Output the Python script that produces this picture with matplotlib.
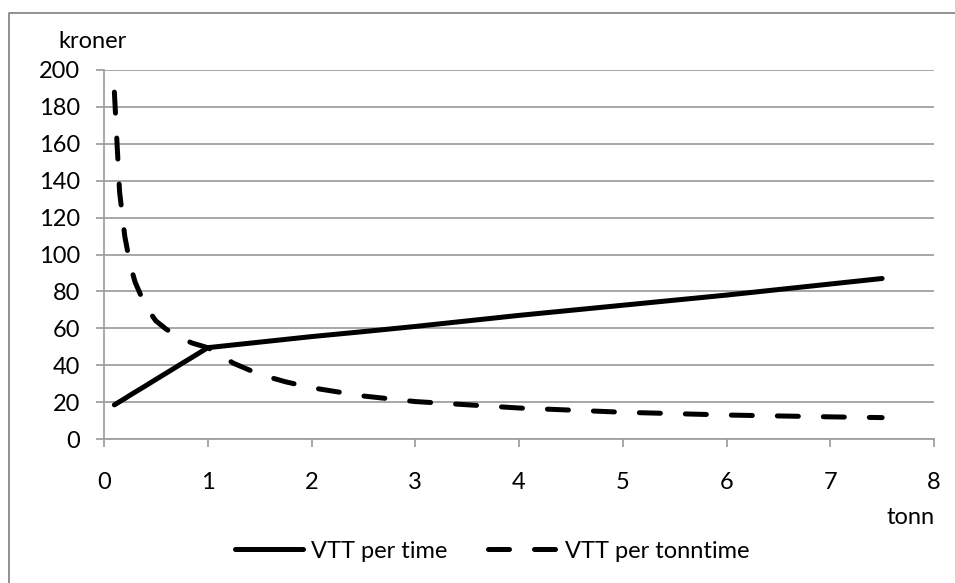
"""VTT per time / per tonntime chart"""
import matplotlib

matplotlib.use("Agg")
from matplotlib import pyplot as plt
from matplotlib.lines import Line2D

plt.rcParams["font.family"] = ["Lato", "DejaVu Sans"]

# Data
tonn = [0.1, 0.15, 0.2, 0.25, 0.3, 0.4, 0.5, 0.6, 0.75, 0.85, 1,
        1.25, 1.5, 1.75, 2, 2.5, 3, 4, 5, 6, 7, 7.5]
vtt_per_time = [18.5, 20.2, 21.9, 23.7, 25.4, 28.8, 32.3, 35.7, 40.9, 44.3, 49.5,
                51, 52.5, 54, 55.5, 58.2, 61, 67, 72.5, 78, 84, 87]
vtt_per_tonntime = [188, 134, 110, 95, 85, 72, 64, 59.5, 54.5, 52, 49.5,
                    41, 35, 31, 27.8, 23.3, 20.3, 16.8, 14.5, 13, 12, 11.6]

x_ticks = list(range(0, 9))
y_ticks = list(range(0, 201, 20))

GRID = "#a0a0a0"
FS = 17
LW = 3.6

fig = plt.figure(figsize=(9.55, 5.83), dpi=100)
ax = fig.add_axes([104 / 955, 1 - 439 / 583, 830 / 955, 369 / 583])

# solid line is straight between 0.1 and 1, then straight to 7.5
ax.plot(tonn, vtt_per_time, color="black", linewidth=LW,
        solid_capstyle="round", solid_joinstyle="round", label="VTT per time")
ax.plot(tonn, vtt_per_tonntime, color="black", linewidth=LW,
        linestyle=(0, (4.2, 5.0)), dash_capstyle="round",
        label="VTT per tonntime")

ax.set_xlim(0, 8)
ax.set_ylim(0, 200)
ax.set_xticks(x_ticks)
ax.set_yticks(y_ticks)
ax.yaxis.grid(True, color=GRID, linewidth=1.3)
ax.set_axisbelow(True)

for side in ["top", "right"]:
    ax.spines[side].set_visible(False)
for side in ["left", "bottom"]:
    ax.spines[side].set_color(GRID)
    ax.spines[side].set_linewidth(1.3)

ax.tick_params(axis="both", colors=GRID, labelcolor="black",
               labelsize=FS, length=6, width=1.3, direction="out")
ax.tick_params(axis="x", pad=18)
ax.tick_params(axis="y", pad=11)

fig.text(58 / 955, 1 - 42 / 583, "kroner", fontsize=FS, va="center", ha="left")
fig.text(935 / 955, 1 - 517 / 583, "tonn", fontsize=FS, va="center", ha="right")

fig.legend(loc="center", bbox_to_anchor=(492 / 955, 1 - 551 / 583), ncol=2,
           frameon=False, fontsize=FS, handlelength=2.9, handletextpad=0.35,
           columnspacing=1.7, borderaxespad=0, borderpad=0)

# outer chart border (only the top and left edges fall inside the picture)
fig.add_artist(Line2D([9 / 955, 9 / 955, 1.0], [0.0, 1 - 13 / 583, 1 - 13 / 583],
                      transform=fig.transFigure, color="#888888", linewidth=1.3))

fig.savefig("out.png", dpi=100)
